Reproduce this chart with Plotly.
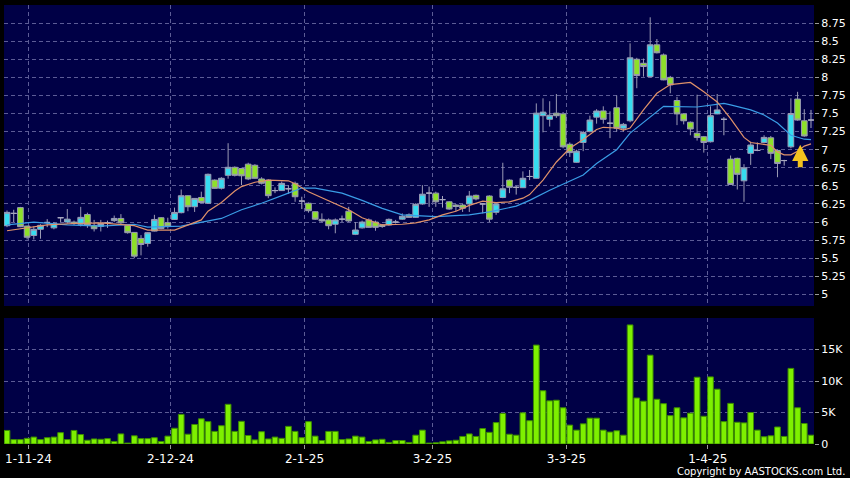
import plotly.graph_objects as go

# ---------------- data ----------------
opens = [5.95, 6.12, 6.20, 5.945, 5.815, 5.90, 5.995, 5.92, 6.06, 6.00,
         6.00, 5.97, 6.105, 5.954, 5.94, 5.99, 6.02, 6.05, 5.954, 5.857,
         5.774, 5.705, 5.875, 6.06, 5.99, 6.036, 6.13, 6.364, 6.212, 6.34,
         6.26, 6.58, 6.467, 6.646, 6.757, 6.74, 6.80, 6.785, 6.596, 6.58,
         6.435, 6.435, 6.46, 6.535, 6.29, 6.26, 6.143, 6.037, 6.03, 5.97,
         6.04, 6.15, 5.83, 5.92, 6.03, 6.00, 5.96, 5.96, 6.00, 6.04,
         6.10, 6.065, 6.25, 6.40, 6.40, 6.31, 6.28, 6.235, 6.235, 6.25,
         6.37, 6.25, 6.36, 6.135, 6.34, 6.58, 6.48, 6.475, 6.63, 6.605,
         7.47, 7.42, 7.505, 7.495, 7.075, 6.826, 7.10, 7.25, 7.45, 7.536,
         7.366, 7.58, 7.297, 7.40, 8.25, 8.195, 8.01, 8.45, 8.31, 8.00,
         7.68, 7.495, 7.38, 7.227, 7.18, 7.11, 7.495, 7.42, 6.87, 6.88,
         6.57, 6.95, 6.99, 7.10, 7.165, 6.99, 6.85, 7.04, 7.70, 7.40,
         7.41]
closes = [6.134, 6.12, 5.936, 5.79, 5.90, 5.955, 5.995, 5.98, 6.06, 6.04,
          5.98, 6.065, 5.955, 5.908, 5.98, 5.99, 6.05, 5.99, 5.853, 5.529,
          5.69, 5.853, 6.036, 5.91, 5.945, 6.133, 6.364, 6.212, 6.327, 6.27,
          6.66, 6.466, 6.605, 6.757, 6.646, 6.64, 6.596, 6.605, 6.536, 6.365,
          6.435, 6.535, 6.46, 6.35, 6.29, 6.157, 6.04, 6.015, 5.95, 6.03,
          6.04, 6.015, 5.89, 6.00, 5.927, 5.927, 5.94, 6.037, 6.00, 6.08,
          6.065, 6.245, 6.385, 6.40, 6.28, 6.31, 6.18, 6.215, 6.19, 6.36,
          6.32, 6.25, 6.04, 6.25, 6.46, 6.48, 6.48, 6.605, 6.63, 7.505,
          7.52, 7.476, 7.47, 7.04, 6.96, 6.98, 7.237, 7.41, 7.535, 7.42,
          7.366, 7.297, 7.35, 8.27, 8.025, 8.15, 8.45, 8.34, 7.965, 7.896,
          7.495, 7.40, 7.287, 7.17, 7.10, 7.47, 7.55, 7.42, 6.52, 6.66,
          6.75, 7.065, 6.99, 7.17, 6.95, 6.81, 6.85, 7.50, 7.41, 7.19,
          7.41]
highs = [6.16, 6.17, 6.21, 5.95, 5.94, 5.97, 6.04, 6.00, 6.07, 6.18,
         6.02, 6.21, 6.13, 6.03, 6.03, 6.02, 6.09, 6.11, 5.96, 5.86,
         5.82, 5.86, 6.10, 6.07, 6.06, 6.20, 6.45, 6.37, 6.33, 6.42,
         6.67, 6.59, 6.62, 7.09, 6.77, 6.75, 6.82, 6.80, 6.62, 6.59,
         6.48, 6.56, 6.51, 6.56, 6.35, 6.27, 6.15, 6.12, 6.05, 6.05,
         6.09, 6.21, 6.00, 6.02, 6.05, 6.02, 5.97, 6.05, 6.03, 6.12,
         6.12, 6.26, 6.51, 6.49, 6.42, 6.36, 6.29, 6.25, 6.25, 6.43,
         6.38, 6.26, 6.37, 6.26, 6.82, 6.59, 6.50, 6.70, 6.72, 7.64,
         7.71, 7.67, 7.77, 7.52, 7.10, 7.00, 7.26, 7.47, 7.56, 7.60,
         7.53, 7.75, 7.37, 8.47, 8.27, 8.26, 8.83, 8.53, 8.33, 8.02,
         7.73, 7.50, 7.39, 7.76, 7.19, 7.60, 7.77, 7.45, 6.92, 6.89,
         6.80, 7.11, 7.10, 7.20, 7.19, 7.00, 6.86, 7.71, 7.80, 7.56,
         7.55]
lows = [5.93, 6.00, 5.93, 5.76, 5.76, 5.77, 5.93, 5.90, 6.00, 5.98,
        5.96, 5.94, 5.92, 5.87, 5.87, 5.92, 6.00, 5.97, 5.84, 5.50,
        5.54, 5.66, 5.87, 5.90, 5.91, 6.03, 6.12, 6.15, 6.14, 6.26,
        6.25, 6.46, 6.45, 6.60, 6.63, 6.51, 6.58, 6.60, 6.52, 6.33,
        6.40, 6.43, 6.39, 6.28, 6.18, 6.13, 6.03, 6.00, 5.90, 5.845,
        6.00, 6.00, 5.82, 5.91, 5.92, 5.88, 5.92, 5.95, 5.98, 6.03,
        6.06, 6.06, 6.24, 6.21, 6.21, 6.20, 6.17, 6.15, 6.14, 6.14,
        6.30, 6.12, 6.00, 6.10, 6.33, 6.40, 6.38, 6.47, 6.58, 6.60,
        7.24, 7.32, 7.44, 7.02, 6.90, 6.82, 6.98, 7.24, 7.36, 7.36,
        7.16, 7.25, 7.25, 7.38, 7.85, 8.01, 8.00, 8.33, 7.96, 7.78,
        7.34, 7.35, 7.20, 7.126, 6.96, 7.10, 7.49, 7.20, 6.52, 6.45,
        6.28, 6.79, 6.98, 7.09, 6.87, 6.62, 6.78, 7.02, 7.40, 7.18,
        7.30]
volumes = [2150, 700, 700, 900, 1100, 700, 1000, 1100, 1800, 700,
           2150, 1500, 600, 800, 750, 850, 400, 1600, 150, 1300,
           850, 850, 1000, 400, 1250, 2500, 4700, 1550, 3100, 4000,
           3550, 2000, 2900, 6300, 2000, 3600, 1350, 650, 1950, 800,
           1100, 900, 2800, 2000, 1000, 3550, 1250, 550, 2000, 2000,
           700, 800, 1250, 1100, 400, 650, 750, 250, 550, 550,
           250, 1400, 2200, 150, 200, 350, 500, 600, 1200, 1600,
           1200, 2450, 1850, 3400, 4850, 1550, 1400, 4950, 3700, 15700,
           8450, 6850, 6950, 5750, 3000, 2200, 3200, 4100, 4100, 2200,
           1900, 2100, 1400, 18900, 7300, 6800, 14100, 7100, 6400, 4500,
           5750, 4150, 4900, 10600, 4400, 10650, 8700, 3550, 6450, 3450,
           3350, 5000, 2200, 1150, 1300, 2700, 1200, 12000, 5750, 3250,
           1400]

ma_short_idx = [0, 6, 10, 14, 19, 21, 25, 27, 29, 30, 32, 34, 35, 37, 39, 42, 43,
                45, 48, 51, 53, 56, 59, 61, 63, 65, 67, 69, 71, 73, 75, 77, 78,
                80, 82, 84, 86, 88, 89, 91, 92, 93, 95, 97, 99, 102, 104, 106,
                108, 110, 111, 113, 114, 115, 116, 117, 118, 119, 120]
ma_short_val = [5.88, 5.96, 5.98, 5.99, 5.95, 5.89, 5.89, 5.96, 6.03, 6.15, 6.27,
                6.43, 6.49, 6.55, 6.58, 6.57, 6.53, 6.42, 6.30, 6.17, 6.06, 5.96,
                5.97, 5.99, 6.03, 6.10, 6.15, 6.23, 6.29, 6.27, 6.28, 6.33, 6.38,
                6.58, 6.83, 7.02, 7.14, 7.28, 7.31, 7.30, 7.27, 7.30, 7.55, 7.78,
                7.90, 7.93, 7.80, 7.66, 7.43, 7.17, 7.10, 7.08, 7.06, 6.97, 6.93,
                6.93, 6.98, 7.05, 7.08]
ma_long_idx = [0, 4, 9, 14, 19, 21, 26, 29, 32, 35, 38, 42, 44, 46, 50, 53, 56,
               59, 64, 69, 72, 76, 78, 81, 84, 86, 88, 91, 93, 96, 98, 103, 107,
               108, 111, 113, 115, 117, 119, 120]
ma_long_val = [5.96, 6.00, 5.96, 5.945, 5.97, 5.93, 5.945, 6.00, 6.05, 6.17, 6.26,
               6.40, 6.47, 6.47, 6.40, 6.30, 6.19, 6.10, 6.075, 6.10, 6.14, 6.22,
               6.30, 6.44, 6.56, 6.65, 6.81, 7.00, 7.23, 7.46, 7.60, 7.59, 7.64,
               7.62, 7.55, 7.48, 7.37, 7.20, 7.145, 7.14]

x_tick_pos = [3.2, 24.4, 44.4, 63.5, 83.5, 104.6]
x_tick_labels = ["1-11-24", "2-12-24", "2-1-25", "3-2-25", "3-3-25", "1-4-25"]
price_ticks = [5, 5.25, 5.5, 5.75, 6, 6.25, 6.5, 6.75, 7, 7.25, 7.5, 7.75, 8, 8.25, 8.5, 8.75]
price_tick_labels = ["5", "5.25", "5.5", "5.75", "6", "6.25", "6.5", "6.75", "7",
                     "7.25", "7.5", "7.75", "8", "8.25", "8.5", "8.75"]
vol_ticks = [0, 5000, 10000, 15000]
vol_tick_labels = ["0", "5K", "10K", "15K"]
signal_idx = 118.4
signal_price = 7.07

# ---------------- figure ----------------
n = len(opens)
xs = list(range(n))
up = [i for i in xs if closes[i] > opens[i]]
dn = [i for i in xs if closes[i] < opens[i]]
dj = [i for i in xs if closes[i] == opens[i]]

NAVY = "#000046"
GRID = "#5c5c96"
WICK = "#9a9ab4"

def candle(idx, fill, line):
    return go.Candlestick(
        x=idx,
        open=[opens[i] for i in idx], high=[highs[i] for i in idx],
        low=[lows[i] for i in idx], close=[closes[i] for i in idx],
        increasing=dict(fillcolor=fill, line=dict(color=line, width=1)),
        decreasing=dict(fillcolor=fill, line=dict(color=line, width=1)),
        whiskerwidth=0, showlegend=False, hoverinfo="skip",
        xaxis="x", yaxis="y")

fig = go.Figure()
fig.add_trace(candle(up, "#36dcf0", WICK))
fig.add_trace(candle(dn, "#8ee02a", WICK))
fig.add_trace(candle(dj, "#a8a8c0", "#a8a8c0"))
fig.add_trace(go.Scatter(x=ma_long_idx, y=ma_long_val, mode="lines",
                         line=dict(color="#3a9de6", width=1.2), showlegend=False,
                         hoverinfo="skip", xaxis="x", yaxis="y"))
fig.add_trace(go.Scatter(x=ma_short_idx, y=ma_short_val, mode="lines",
                         line=dict(color="#e0926a", width=1.2), showlegend=False,
                         hoverinfo="skip", xaxis="x", yaxis="y"))
fig.add_trace(go.Bar(x=xs, y=volumes, width=0.85,
                     marker=dict(color="#7ef000", line=dict(color="#3c8c00", width=1)),
                     showlegend=False, hoverinfo="skip", xaxis="x2", yaxis="y2"))

axis_font = dict(family="DejaVu Sans", size=11, color="#ffffff")
grid = dict(showgrid=True, gridcolor=GRID, griddash="4px,3px", gridwidth=1,
            zeroline=False, showline=False, fixedrange=True, automargin=False)
xr = [-0.45, n - 1 + 0.45]
fig.update_layout(
    width=850, height=478,
    margin=dict(l=0, r=0, t=0, b=0, pad=0, autoexpand=False),
    paper_bgcolor="#000000", plot_bgcolor=NAVY,
    boxgap=0.15, boxgroupgap=0,
    xaxis=dict(domain=[4 / 850, 814 / 850], range=xr, anchor="y",
               tickvals=x_tick_pos, showticklabels=False, ticks="",
               rangeslider=dict(visible=False), **grid),
    yaxis=dict(domain=[1 - 306 / 478, 1 - 5 / 478], range=[4.84, 9.0], side="right",
               anchor="x", tickvals=price_ticks, ticktext=price_tick_labels,
               ticks="outside", ticklen=4, tickcolor="#9a9a9a", tickfont=axis_font,
               **grid),
    xaxis2=dict(domain=[4 / 850, 814 / 850], range=xr, anchor="y2", matches="x",
                tickvals=x_tick_pos, ticktext=x_tick_labels, ticks="outside",
                ticklen=4, tickcolor="#9a9a9a",
                tickfont=dict(family="DejaVu Sans", size=12, color="#ffffff"),
                **grid),
    yaxis2=dict(domain=[1 - 444 / 478, 1 - 318 / 478], range=[0, 20000], side="right",
                anchor="x2", tickvals=vol_ticks, ticktext=vol_tick_labels,
                ticks="outside", ticklen=4, tickcolor="#9a9a9a", tickfont=axis_font,
                **grid),
    annotations=[
        dict(x=signal_idx, y=signal_price, xref="x", yref="y", ax=0, ay=24,
             showarrow=True, arrowhead=2, arrowsize=0.65, arrowwidth=5,
             arrowcolor="#f2c21e", text=""),
        dict(x=1, y=0, xref="paper", yref="paper", xanchor="right", yanchor="bottom",
             text="Copyright by AASTOCKS.com Ltd.", showarrow=False,
             font=dict(family="DejaVu Sans", size=10, color="#ffffff"), xshift=-3, yshift=-1),
    ],
)

fig.write_html("out.html", config={"displayModeBar": False},
               post_script="document.body.style.margin='0';document.body.style.overflow='hidden';")
